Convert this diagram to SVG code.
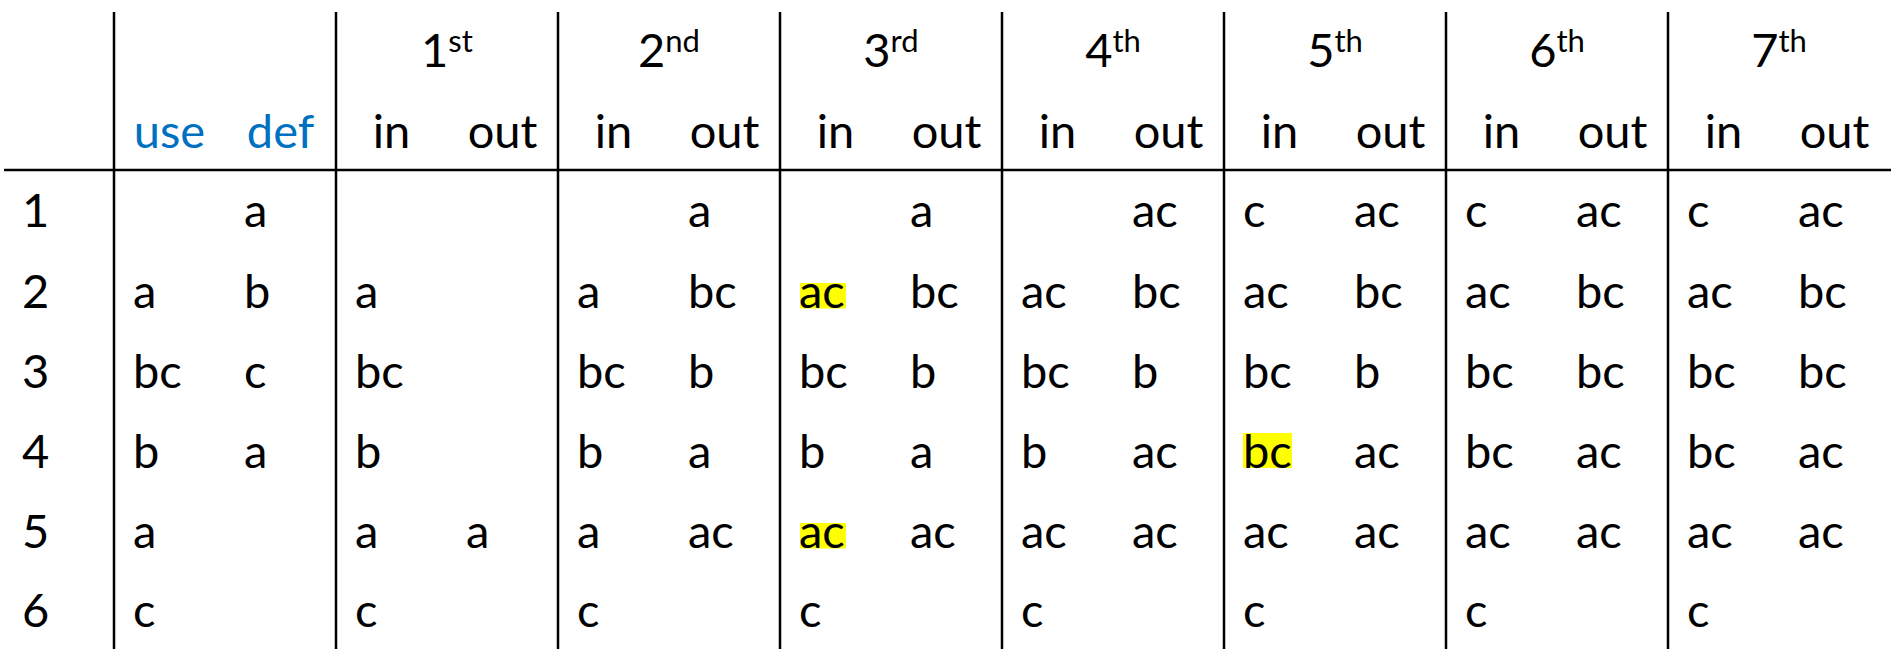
<svg xmlns="http://www.w3.org/2000/svg" width="1895" height="665" viewBox="0 0 1895 665">
<style>
text{font-family:Lato,"Liberation Sans",sans-serif;font-size:47px;fill:#000}
.b{fill:#0070C0}
.h{text-anchor:middle}
.sup{font-size:31px}
.grid line{stroke:#000;stroke-width:2.5}
.hl{fill:#FFFF00}
</style>
<rect width="1895" height="665" fill="#fff"/>
<g id="grid" class="grid">
<line x1="4" y1="170" x2="1891" y2="170"/>
<line x1="114" y1="12" x2="114" y2="649"/>
<line x1="336" y1="12" x2="336" y2="649"/>
<line x1="558" y1="12" x2="558" y2="649"/>
<line x1="780" y1="12" x2="780" y2="649"/>
<line x1="1002" y1="12" x2="1002" y2="649"/>
<line x1="1224" y1="12" x2="1224" y2="649"/>
<line x1="1446" y1="12" x2="1446" y2="649"/>
<line x1="1668" y1="12" x2="1668" y2="649"/>
</g>
<g id="highlights">
<rect class="hl" x="800" y="283" width="46" height="25.5"/>
<rect class="hl" x="800" y="523" width="46" height="25.5"/>
<rect class="hl" x="1243" y="433" width="49" height="35"/>
</g>
<g id="header-passes">
<text class="h" x="447" y="66.5">1<tspan class="sup" dy="-15">st</tspan></text>
<text class="h" x="669" y="66.5">2<tspan class="sup" dy="-15">nd</tspan></text>
<text class="h" x="891" y="66.5">3<tspan class="sup" dy="-15">rd</tspan></text>
<text class="h" x="1113" y="66.5">4<tspan class="sup" dy="-15">th</tspan></text>
<text class="h" x="1335" y="66.5">5<tspan class="sup" dy="-15">th</tspan></text>
<text class="h" x="1557" y="66.5">6<tspan class="sup" dy="-15">th</tspan></text>
<text class="h" x="1779" y="66.5">7<tspan class="sup" dy="-15">th</tspan></text>
</g>
<g id="header-cols">
<text class="h b" x="169.5" y="147.5">use</text>
<text class="h b" x="280.5" y="147.5">def</text>
<text class="h" x="391.5" y="147.5">in</text><text class="h" x="502.5" y="147.5">out</text>
<text class="h" x="613.5" y="147.5">in</text><text class="h" x="724.5" y="147.5">out</text>
<text class="h" x="835.5" y="147.5">in</text><text class="h" x="946.5" y="147.5">out</text>
<text class="h" x="1057.5" y="147.5">in</text><text class="h" x="1168.5" y="147.5">out</text>
<text class="h" x="1279.5" y="147.5">in</text><text class="h" x="1390.5" y="147.5">out</text>
<text class="h" x="1501.5" y="147.5">in</text><text class="h" x="1612.5" y="147.5">out</text>
<text class="h" x="1723.5" y="147.5">in</text><text class="h" x="1834.5" y="147.5">out</text>
</g>
<g id="row1">
<text x="22" y="227">1</text>
<text x="244" y="227">a</text>
<text x="688" y="227">a</text>
<text x="910" y="227">a</text>
<text x="1132" y="227">ac</text>
<text x="1243" y="227">c</text><text x="1354" y="227">ac</text>
<text x="1465" y="227">c</text><text x="1576" y="227">ac</text>
<text x="1687" y="227">c</text><text x="1798" y="227">ac</text>
</g>
<g id="row2">
<text x="22" y="308">2</text>
<text x="133" y="308">a</text><text x="244" y="308">b</text>
<text x="355" y="308">a</text>
<text x="577" y="308">a</text><text x="688" y="308">bc</text>
<text x="799" y="308">ac</text><text x="910" y="308">bc</text>
<text x="1021" y="308">ac</text><text x="1132" y="308">bc</text>
<text x="1243" y="308">ac</text><text x="1354" y="308">bc</text>
<text x="1465" y="308">ac</text><text x="1576" y="308">bc</text>
<text x="1687" y="308">ac</text><text x="1798" y="308">bc</text>
</g>
<g id="row3">
<text x="22" y="388">3</text>
<text x="133" y="388">bc</text><text x="244" y="388">c</text>
<text x="355" y="388">bc</text>
<text x="577" y="388">bc</text><text x="688" y="388">b</text>
<text x="799" y="388">bc</text><text x="910" y="388">b</text>
<text x="1021" y="388">bc</text><text x="1132" y="388">b</text>
<text x="1243" y="388">bc</text><text x="1354" y="388">b</text>
<text x="1465" y="388">bc</text><text x="1576" y="388">bc</text>
<text x="1687" y="388">bc</text><text x="1798" y="388">bc</text>
</g>
<g id="row4">
<text x="22" y="468">4</text>
<text x="133" y="468">b</text><text x="244" y="468">a</text>
<text x="355" y="468">b</text>
<text x="577" y="468">b</text><text x="688" y="468">a</text>
<text x="799" y="468">b</text><text x="910" y="468">a</text>
<text x="1021" y="468">b</text><text x="1132" y="468">ac</text>
<text x="1243" y="468">bc</text><text x="1354" y="468">ac</text>
<text x="1465" y="468">bc</text><text x="1576" y="468">ac</text>
<text x="1687" y="468">bc</text><text x="1798" y="468">ac</text>
</g>
<g id="row5">
<text x="22" y="548">5</text>
<text x="133" y="548">a</text>
<text x="355" y="548">a</text><text x="466" y="548">a</text>
<text x="577" y="548">a</text><text x="688" y="548">ac</text>
<text x="799" y="548">ac</text><text x="910" y="548">ac</text>
<text x="1021" y="548">ac</text><text x="1132" y="548">ac</text>
<text x="1243" y="548">ac</text><text x="1354" y="548">ac</text>
<text x="1465" y="548">ac</text><text x="1576" y="548">ac</text>
<text x="1687" y="548">ac</text><text x="1798" y="548">ac</text>
</g>
<g id="row6">
<text x="22" y="627">6</text>
<text x="133" y="627">c</text>
<text x="355" y="627">c</text>
<text x="577" y="627">c</text>
<text x="799" y="627">c</text>
<text x="1021" y="627">c</text>
<text x="1243" y="627">c</text>
<text x="1465" y="627">c</text>
<text x="1687" y="627">c</text>
</g>
</svg>
